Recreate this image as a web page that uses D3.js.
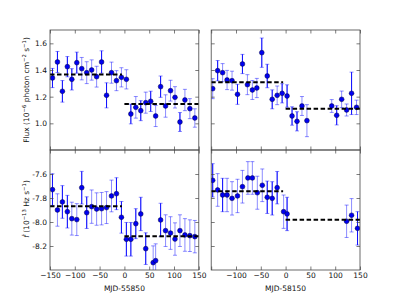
<!DOCTYPE html>
<html>
<head>
<meta charset="utf-8">
<script src="https://cdn.jsdelivr.net/npm/d3@7"></script>
<style>
  body { margin: 0; background: #fff; }
  svg text { font-family: "DejaVu Sans", sans-serif; }
</style>
</head>
<body>
<div id="chart"></div>
<script>
// ---- data ----
var xTicks = [-150, -100, -50, 0, 50, 100, 150];
var fluxTicks = [1.0, 1.2, 1.4, 1.6];
var fdotTicks = [-8.2, -8.0, -7.8, -7.6];

// epoch 1 (MJD-55850), flux
var flux1Days = [-145,-135,-125,-115,-106,-96,-86,-76,-66,-56,-46,-36,-26,-16,-6,4,13,23,33,43,53,63,73,83,93,102,112,122,132,142];
var flux1 = [1.34,1.46,1.24,1.425,1.33,1.455,1.41,1.38,1.40,1.35,1.46,1.21,1.38,1.32,1.345,1.33,1.07,1.12,1.095,1.155,1.165,1.055,1.275,1.13,1.245,1.195,1.01,1.175,1.11,1.04];
var flux1Err = [0.072,0.079,0.081,0.076,0.08,0.079,0.084,0.082,0.076,0.078,0.084,0.094,0.079,0.075,0.072,0.072,0.074,0.081,0.075,0.079,0.076,0.079,0.08,0.084,0.078,0.08,0.071,0.08,0.075,0.069];
var flux1Solid = [1,1,1,1,1,1,0,0,0,0,1,1,0,0,0,0,1,0,1,0,1,0,1,0,0,0,1,0,0,0];
var flux1Steps = [[-150,-5,1.367],[0,150,1.145]];

// epoch 2 (MJD-58150), flux
var flux2Days = [-147,-137,-127,-118,-108,-97,-87,-77,-67,-58,-48,-37,-27,-17,-7,3,13,23,33,43,93,103,113,123,133,143];
var flux2 = [1.26,1.395,1.38,1.325,1.32,1.2175,1.445,1.29,1.25,1.265,1.53,1.355,1.18,1.21,1.225,1.205,1.055,1.015,1.13,1.02,1.13,1.06,1.18,1.10,1.225,1.12];
var flux2Err = [0.075,0.076,0.068,0.072,0.071,0.075,0.072,0.075,0.071,0.072,0.11,0.088,0.071,0.07,0.072,0.084,0.069,0.072,0.071,0.12,0.048,0.072,0.062,0.045,0.159,0.054];
var flux2Solid = [0,1,0,0,0,1,1,0,0,0,1,1,1,0,1,1,1,1,0,0,0,1,0,0,1,0];
var flux2Steps = [[-150,-5,1.3075],[0,150,1.11]];

// epoch 1, fdot
var fdot1Days = [-145,-135,-125,-115,-106,-96,-86,-76,-66,-56,-46,-36,-26,-16,-6,4,13,23,33,43,58,63,73,83,93,102,112,122,132,142];
var fdot1 = [-7.73,-7.90,-7.833,-7.914,-7.972,-7.98,-7.714,-7.922,-7.872,-7.892,-7.889,-7.88,-7.783,-7.764,-7.961,-8.144,-8.144,-8.014,-7.933,-8.222,-8.339,-8.322,-7.983,-8.072,-8.092,-8.142,-8.072,-8.108,-8.114,-8.122];
var fdot1Err = [0.132,0.135,0.136,0.136,0.137,0.133,0.136,0.132,0.139,0.135,0.135,0.133,0.132,0.133,0.132,0.14,0.14,0.125,0.139,0.132,0.14,0.14,0.139,0.132,0.136,0.135,0.132,0.136,0.132,0.135];
var fdot1Solid = [1,0,1,1,0,0,1,1,0,0,0,0,0,1,1,1,1,1,1,1,0,0,1,0,0,0,0,0,0,0];
var fdot1Steps = [[-150,-5,-7.869],[0,150,-8.119]];

// epoch 2, fdot
var fdot2Days = [-147,-137,-127,-118,-108,-97,-87,-76,-67,-57,-47,-37,-27,-17,-4,3,123,133,145];
var fdot2 = [-7.653,-7.733,-7.775,-7.775,-7.803,-7.783,-7.706,-7.633,-7.633,-7.756,-7.694,-7.794,-7.803,-7.714,-7.914,-7.933,-7.994,-7.944,-8.053];
var fdot2Err = [0.139,0.136,0.139,0.139,0.139,0.139,0.136,0.136,0.136,0.1375,0.136,0.135,0.139,0.135,0.139,0.139,0.135,0.139,0.139];
var fdot2Solid = [1,0,1,0,0,0,0,0,0,0,0,1,1,1,0,1,0,0,1];
var fdot2Steps = [[-150,-5,-7.744],[0,150,-7.981]];

// ---- layout ----
var width = 400, height = 300;
var cols = [{left: 50, right: 198.8}, {left: 211.2, right: 360}];
var rows = [{top: 30, bottom: 150}, {top: 150, bottom: 270}];
var fontSize = 7.5, tickLen = 3.5;

var svg = d3.select("#chart").append("svg")
    .attr("width", width)
    .attr("height", height);

var hyphen = function(v){ return d3.format(".1f")(v).replace("\u2212", "-"); };

function panel(opts){
    var col = cols[opts.col], row = rows[opts.row];
    var x = d3.scaleLinear().domain([-150, 150]).range([col.left, col.right]);
    var y = d3.scaleLinear().domain(opts.yDomain).range([row.bottom, row.top]);
    var id = "clip" + opts.row + opts.col;

    svg.append("clipPath").attr("id", id)
      .append("rect")
        .attr("x", col.left).attr("y", row.top)
        .attr("width", col.right - col.left).attr("height", row.bottom - row.top);

    var plot = svg.append("g").attr("clip-path", "url(#" + id + ")");

    var pts = opts.days.map(function(d, i){
        return {x: d, y: opts.vals[i], e: opts.errs[i], solid: opts.solid[i]};
    });

    // error bars, light first
    var bars = plot.append("g");
    bars.selectAll(".eb").data(pts).enter().append("line")
        .attr("x1", function(d){ return x(d.x); })
        .attr("x2", function(d){ return x(d.x); })
        .attr("y1", function(d){ return y(d.y - d.e); })
        .attr("y2", function(d){ return y(d.y + d.e); })
        .attr("stroke", "#0000ff").attr("stroke-opacity", 0.45).attr("stroke-width", 1);
    [-1, 1].forEach(function(s){
        bars.selectAll(".cap" + s).data(pts).enter().append("line")
            .attr("x1", function(d){ return x(d.x) - 2; })
            .attr("x2", function(d){ return x(d.x) + 2; })
            .attr("y1", function(d){ return y(d.y + s * d.e); })
            .attr("y2", function(d){ return y(d.y + s * d.e); })
            .attr("stroke", "#0000ff").attr("stroke-opacity", 0.45).attr("stroke-width", 1);
    });
    bars.selectAll(".ebs").data(pts.filter(function(d){ return d.solid; })).enter().append("line")
        .attr("x1", function(d){ return x(d.x); })
        .attr("x2", function(d){ return x(d.x); })
        .attr("y1", function(d){ return y(d.y - d.e); })
        .attr("y2", function(d){ return y(d.y + d.e); })
        .attr("stroke", "#1010ff").attr("stroke-width", 1);

    plot.selectAll("circle").data(pts).enter().append("circle")
        .attr("cx", function(d){ return x(d.x); })
        .attr("cy", function(d){ return y(d.y); })
        .attr("r", 2.4)
        .attr("fill", "#0000f0")
        .attr("stroke", "#000040").attr("stroke-width", 0.5);

    // fitted levels
    plot.selectAll(".step").data(opts.steps).enter().append("line")
        .attr("x1", function(d){ return x(d[0]); })
        .attr("x2", function(d){ return x(d[1]); })
        .attr("y1", function(d){ return y(d[2]); })
        .attr("y2", function(d){ return y(d[2]); })
        .attr("stroke", "#000").attr("stroke-width", 2)
        .attr("stroke-dasharray", "4.5,2.5");

    // axes, ticks pointing inward on all four sides
    var bottomAxis = d3.axisBottom(x).tickValues(opts.xLabels ? opts.xLabels : xTicks)
        .tickSize(-tickLen).tickPadding(3);
    if (opts.row === 0) bottomAxis.tickFormat("");
    var gb = svg.append("g").attr("transform", "translate(0," + row.bottom + ")").call(bottomAxis);
    if (opts.row === 1 && opts.col === 1) {
        // -150 label is left off on the right-hand panel
        gb.selectAll(".tick text").filter(function(d){ return d === -150; }).remove();
    }
    svg.append("g").attr("transform", "translate(0," + row.top + ")")
        .call(d3.axisTop(x).tickValues(xTicks).tickSize(-tickLen).tickFormat(""));

    var leftAxis = d3.axisLeft(y).tickValues(opts.yTicks).tickSize(-tickLen).tickPadding(3)
        .tickFormat(opts.col === 0 ? hyphen : "");
    svg.append("g").attr("transform", "translate(" + col.left + ",0)").call(leftAxis);
    svg.append("g").attr("transform", "translate(" + col.right + ",0)")
        .call(d3.axisRight(y).tickValues(opts.yTicks).tickSize(-tickLen).tickFormat(""));

    svg.selectAll(".domain").remove();
    svg.selectAll(".tick line").attr("stroke", "#444").attr("stroke-width", 0.7);
    svg.selectAll(".tick text").attr("font-size", fontSize).attr("fill", "#111")
        .attr("font-family", "DejaVu Sans, sans-serif");

    svg.append("rect")
        .attr("x", col.left).attr("y", row.top)
        .attr("width", col.right - col.left).attr("height", row.bottom - row.top)
        .attr("fill", "none").attr("stroke", "#444").attr("stroke-width", 0.8);

    return x;
}

panel({row: 0, col: 0, yDomain: [0.8, 1.7], yTicks: fluxTicks,
       days: flux1Days, vals: flux1, errs: flux1Err, solid: flux1Solid, steps: flux1Steps});
panel({row: 0, col: 1, yDomain: [0.8, 1.7], yTicks: fluxTicks,
       days: flux2Days, vals: flux2, errs: flux2Err, solid: flux2Solid, steps: flux2Steps});
panel({row: 1, col: 0, yDomain: [-8.4, -7.4], yTicks: fdotTicks,
       days: fdot1Days, vals: fdot1, errs: fdot1Err, solid: fdot1Solid, steps: fdot1Steps});
panel({row: 1, col: 1, yDomain: [-8.4, -7.4], yTicks: fdotTicks,
       days: fdot2Days, vals: fdot2, errs: fdot2Err, solid: fdot2Solid, steps: fdot2Steps});

// x axis titles
svg.append("text")
    .attr("x", (cols[0].left + cols[0].right) / 2).attr("y", 290.5)
    .attr("text-anchor", "middle").attr("font-size", fontSize).attr("fill", "#111")
    .text("MJD-55850");
svg.append("text")
    .attr("x", (cols[1].left + cols[1].right) / 2).attr("y", 290.5)
    .attr("text-anchor", "middle").attr("font-size", fontSize).attr("fill", "#111")
    .text("MJD-58150");

// y axis titles with superscripts
function ylabel(cx, cy, parts){
    var t = svg.append("text")
        .attr("transform", "translate(" + cx + "," + cy + ") rotate(-90)")
        .attr("text-anchor", "middle").attr("font-size", fontSize).attr("fill", "#111");
    parts.forEach(function(p){
        var s = t.append("tspan").text(p.t);
        if (p.sup) s.attr("font-size", 5.3).attr("dy", -3);
        if (p.back) s.attr("dy", 3);
        if (p.it) s.attr("font-style", "italic");
    });
}
ylabel(29, 90, [
    {t: "Flux (10"}, {t: "\u22126", sup: true}, {t: " photon cm", back: true},
    {t: "\u22122", sup: true}, {t: " s", back: true}, {t: "\u22121", sup: true}, {t: ")", back: true}
]);
ylabel(29, 209, [
    {t: "\u1E1F", it: true}, {t: " (10"}, {t: "\u221213", sup: true}, {t: " Hz s", back: true},
    {t: "\u22121", sup: true}, {t: ")", back: true}
]);
</script>
</body>
</html>
